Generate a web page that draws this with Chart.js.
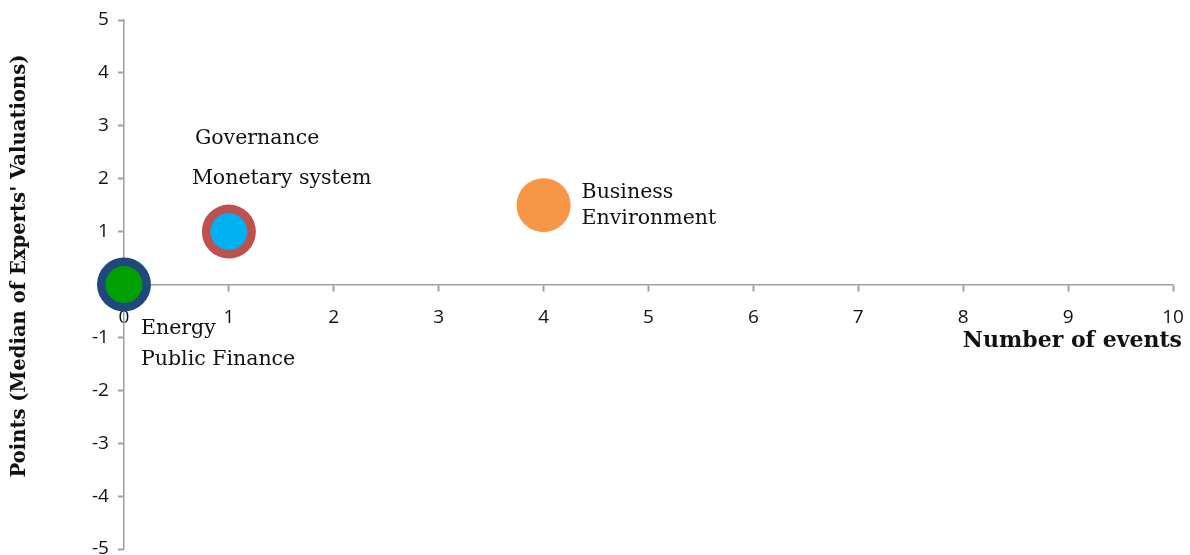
<!DOCTYPE html>
<html>
<head>
<meta charset="utf-8">
<script src="https://cdn.jsdelivr.net/npm/chart.js@4.4.1/dist/chart.umd.min.js"></script>
<style>
  html, body { margin: 0; padding: 0; background: #fff; overflow: hidden; }
  #wrap { width: 1200px; height: 583px; position: relative; margin-top: -7px; }
</style>
</head>
<body>
<div id="wrap"><canvas id="bubbleChart"></canvas></div>
<script>
// series shown as bubbles
const seriesNames = ['Energy', 'Public Finance', 'Governance', 'Monetary system', 'Business Environment'];
const eventCounts = [0, 0, 1, 1, 4];
const medianPoints = [0, 0, 1, 1, 1.5];
const bubbleRadius = [27, 18.5, 27, 18.5, 27];
const xTicks = [0, 1, 2, 3, 4, 5, 6, 7, 8, 9, 10];
const yTicks = [-5, -4, -3, -2, -1, 0, 1, 2, 3, 4, 5];

const colors = ['#1F497D', '#00A000', '#C0504D', '#00B0F0', '#F79646'];
// bigger bubbles first so the small ones sit on top
const drawOrder = [5, 1, 4, 2, 3];

// where each name goes, relative to its bubble centre
const labelOffsets = [
    { dx: 17, dy: 44, lines: ['Energy'] },
    { dx: 17, dy: 75, lines: ['Public Finance'] },
    { dx: -34, dy: -93, lines: ['Governance'] },
    { dx: -37, dy: -53, lines: ['Monetary system'] },
    { dx: 38, dy: -12, lines: ['Business', 'Environment'] }
];

var datasets = seriesNames.map(function(name, i) {
    return {
        label: name,
        data: [{ x: eventCounts[i], y: medianPoints[i], r: bubbleRadius[i] }],
        backgroundColor: colors[i],
        borderWidth: 0,
        hoverBorderWidth: 0,
        clip: false,
        order: drawOrder[i]
    };
});

const textPlugin = {
    id: 'textPlugin',
    afterDraw: function(chart) {
        var ctx = chart.ctx;
        var xs = chart.scales.x, ys = chart.scales.y;
        ctx.save();
        ctx.fillStyle = '#111';
        ctx.font = '20.5px "DejaVu Serif"';
        ctx.textAlign = 'left';
        ctx.textBaseline = 'middle';
        seriesNames.forEach(function(name, i) {
            var px = xs.getPixelForValue(eventCounts[i]);
            var py = ys.getPixelForValue(medianPoints[i]);
            var o = labelOffsets[i];
            o.lines.forEach(function(line, k) {
                ctx.fillText(line, px + o.dx, py + o.dy + k * 26);
            });
        });
        // axis titles, placed against the chart area
        var area = chart.chartArea;
        ctx.font = 'bold 22px "DejaVu Serif"';
        ctx.textAlign = 'right';
        ctx.fillText('Number of events', area.right + 9, ys.getPixelForValue(0) + 57);
        ctx.font = 'bold 19.6px "DejaVu Serif"';
        ctx.translate(20, area.top + 246);
        ctx.rotate(-Math.PI / 2);
        ctx.textAlign = 'center';
        ctx.fillText("Points (Median of Experts' Valuations)", 0, 0);
        ctx.restore();
    }
};

var ctx = document.getElementById('bubbleChart').getContext('2d');
var bubbleChart = new Chart(ctx, {
    type: 'bubble',
    data: { datasets: datasets },
    plugins: [textPlugin],
    options: {
        responsive: true,
        maintainAspectRatio: false,
        animation: false,
        layout: { padding: { left: 83, right: 7, top: 13, bottom: 6 } },
        plugins: {
            legend: { display: false },
            tooltip: { enabled: false },
            title: { display: false }
        },
        scales: {
            x: {
                type: 'linear',
                position: { y: 0 },
                min: 0,
                max: 10,
                afterBuildTicks: function(scale) {
                    scale.ticks = xTicks.map(v => ({ value: v }));
                },
                grid: { drawOnChartArea: false, drawTicks: true, tickLength: 6, tickColor: '#A0A0A0', tickWidth: 2 },
                border: { color: '#A0A0A0', width: 1.5 },
                ticks: { color: '#111', font: { family: 'Open Sans', size: 19 }, padding: 16, maxRotation: 0 }
            },
            y: {
                type: 'linear',
                position: 'left',
                min: -5,
                max: 5,
                afterBuildTicks: function(scale) {
                    scale.ticks = yTicks.map(v => ({ value: v }));
                },
                grid: { drawOnChartArea: false, drawTicks: true, tickLength: 6, tickColor: '#A0A0A0', tickWidth: 2 },
                border: { color: '#A0A0A0', width: 1.5 },
                ticks: { color: '#111', font: { family: 'Open Sans', size: 19 }, padding: 9 }
            }
        }
    }
});
</script>
</body>
</html>
